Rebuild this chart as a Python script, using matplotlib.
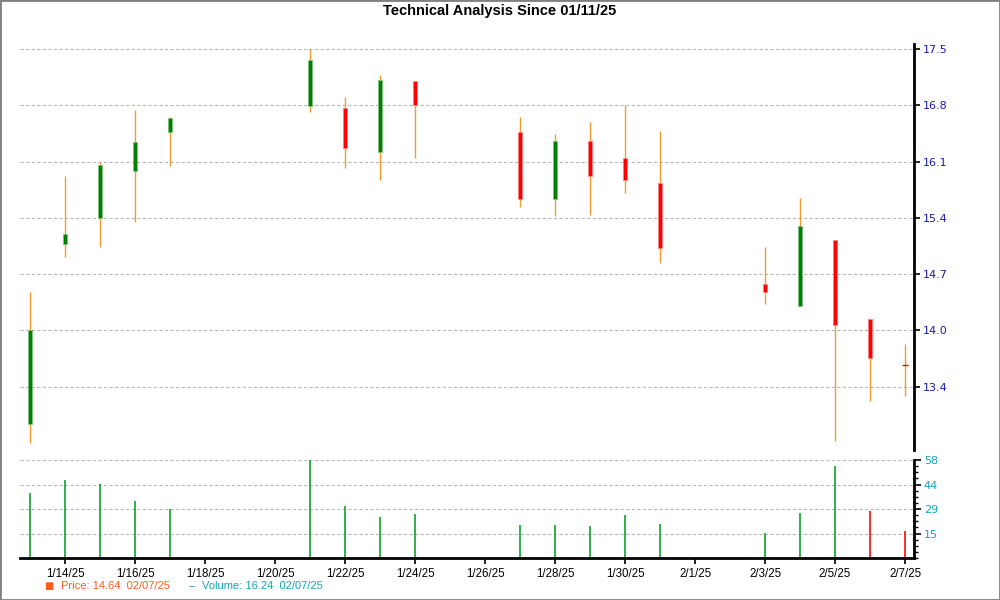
import matplotlib
matplotlib.use("Agg")
import matplotlib.pyplot as plt
import matplotlib.dates as mdates
from matplotlib.ticker import FixedLocator, AutoMinorLocator
from matplotlib.patches import Rectangle
import numpy as np
import pandas as pd

# %% data
dates = ["2025-01-13", "2025-01-14", "2025-01-15", "2025-01-16", "2025-01-17",
         "2025-01-21", "2025-01-22", "2025-01-23", "2025-01-24",
         "2025-01-27", "2025-01-28", "2025-01-29", "2025-01-30", "2025-01-31",
         "2025-02-03", "2025-02-04", "2025-02-05", "2025-02-06", "2025-02-07"]
opens  = [12.83, 15.08, 15.40, 15.99, 16.47, 16.79, 16.77, 16.22, 17.10,
          16.47, 15.64, 16.36, 16.14, 15.83, 14.58, 14.30, 15.12, 14.14, 13.57]
closes = [14.00, 15.20, 16.06, 16.34, 16.65, 17.37, 16.27, 17.12, 16.80,
          15.64, 16.36, 15.92, 15.87, 15.03, 14.48, 15.30, 14.07, 13.65, 13.57]
highs  = [14.48, 15.92, 16.10, 16.74, 16.66, 17.50, 16.91, 17.18, 17.11,
          16.66, 16.45, 16.59, 16.80, 16.48, 15.04, 15.65, 15.12, 14.14, 13.83]
lows   = [12.60, 14.91, 15.04, 15.35, 16.05, 16.72, 16.02, 15.87, 16.14,
          15.54, 15.43, 15.44, 15.71, 14.84, 14.33, 14.30, 12.62, 13.12, 13.18]
volumes = [38.3, 46.2, 43.8, 33.7, 28.8, 58.0, 30.8, 24.3, 26.0,
           19.5, 19.5, 18.9, 25.4, 20.1, 14.8, 26.6, 54.4, 27.8, 16.24]
vol_up = [True] * 17 + [False, False]

price_ticks = [13.3, 14.0, 14.7, 15.4, 16.1, 16.8, 17.5]
price_labels = ["13.4", "14.0", "14.7", "15.4", "16.1", "16.8", "17.5"]
vol_ticks = [14.5, 29, 43.5, 58]
vol_labels = ["15", "29", "44", "58"]

title = "Technical Analysis Since 01/11/25"
legend_price = "Price: 14.64  02/07/25"
legend_vol = "Volume: 16.24  02/07/25"

# %%
x = mdates.date2num(pd.to_datetime(dates))
o = np.array(opens); c = np.array(closes)
up = c > o
doji = c == o

GREEN, RED, WICK = "#008000", "#ff0000", "#f39a2c"
GRID = dict(color="#b8b8b8", linestyle=(0, (3, 2)), linewidth=0.8)

fig = plt.figure(figsize=(10, 6), dpi=100)
fig.patches.append(Rectangle((0, 0), 1, 1, transform=fig.transFigure, fill=False,
                             edgecolor="#808080", linewidth=2))

x0 = x[0] - 10 / 35
x1 = x[-1] + 9 / 35

ax = fig.add_axes([0.02, 0.25, 0.894, 0.6767])
ax.vlines(x, lows, highs, color=WICK, linewidth=1, zorder=2)
body_w = 0.14
ax.bar(x[up], c[up] - o[up], bottom=o[up], width=body_w, color=GREEN,
       edgecolor="#7fc07f", linewidth=0.6, zorder=3)
dn = ~up & ~doji
ax.bar(x[dn], c[dn] - o[dn], bottom=o[dn], width=body_w, color=RED,
       edgecolor="#ff8080", linewidth=0.6, zorder=3)
ax.hlines(c[doji], x[doji] - 0.08, x[doji] + 0.08, color=RED, linewidth=1, zorder=3)

ax.set_xlim(x0, x1)
ax.set_ylim(12.51, 17.566)
ax.yaxis.tick_right()
ax.yaxis.set_major_locator(FixedLocator(price_ticks))
ax.set_yticklabels(price_labels)
ax.tick_params(axis="y", colors="black", labelcolor="#1a1ab0", labelsize=8,
               length=4, width=1.2, pad=2)
ax.set_xticks([])
for s in ["left", "top", "bottom"]:
    ax.spines[s].set_visible(False)
ax.spines["right"].set_linewidth(2)
ax.grid(axis="y", **GRID)
ax.set_axisbelow(True)

vax = fig.add_axes([0.02, 0.07, 0.894, 0.1633])
vcol = ["#22a83c" if u else "#ff1a1a" for u in vol_up]
vax.vlines(x, 0, volumes, color=vcol, linewidth=1.3)
vax.set_xlim(x0, x1)
vax.set_ylim(0, 58)
vax.yaxis.tick_right()
vax.yaxis.set_major_locator(FixedLocator(vol_ticks))
vax.set_yticklabels(vol_labels)
vax.yaxis.set_minor_locator(AutoMinorLocator(4))
vax.tick_params(axis="y", which="major", labelcolor="#17a2b8", labelsize=8,
                length=5, width=1.2, pad=2)
vax.tick_params(axis="y", which="minor", length=3, width=1)
vax.grid(axis="y", **GRID)
vax.set_axisbelow(True)
for s in ["left", "top"]:
    vax.spines[s].set_visible(False)
vax.spines["right"].set_linewidth(2)
vax.spines["bottom"].set_linewidth(2)

xt = mdates.date2num(pd.date_range("2025-01-14", "2025-02-07", freq="2D"))
vax.set_xticks(xt)
vax.set_xticklabels([f"{d.month}/{d.day}/25" for d in mdates.num2date(xt)],
                    family="Liberation Sans")
vax.tick_params(axis="x", length=4, width=1.2, labelsize=8.3, pad=3)

fig.text(0.5, 0.981, title, ha="center", va="center", fontsize=10.5,
         fontweight="bold", family="Liberation Sans")

fig.text(0.049, 0.023, "\u25a0", ha="center", va="center", fontsize=7, color="#ff5a1f")
fig.text(0.061, 0.023, legend_price, ha="left", va="center", fontsize=8,
         color="#ff5a1f", family="Liberation Sans")
fig.text(0.192, 0.023, "\u2013", ha="center", va="center", fontsize=8,
         color="#17a2b8", family="Liberation Sans")
fig.text(0.202, 0.023, legend_vol, ha="left", va="center", fontsize=8,
         color="#17a2b8", family="Liberation Sans")

fig.savefig("out.png", dpi=100)
